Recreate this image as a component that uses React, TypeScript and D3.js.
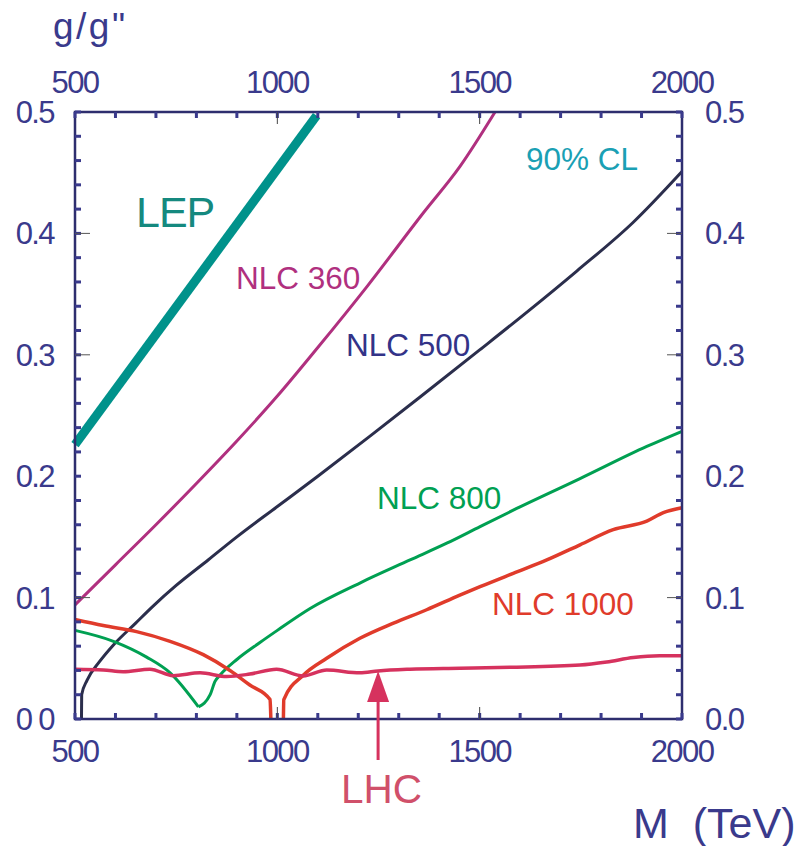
import React from "react";
import * as d3 from "d3";

// ---- data ----
const lepM = [500, 1097];
const lepG = [0.226, 0.497];

const nlc360M = [500, 600, 700, 800, 900, 1000, 1100, 1221, 1361, 1451, 1538];
const nlc360G = [0.094, 0.127, 0.16, 0.194, 0.229, 0.266, 0.306, 0.356, 0.417, 0.455, 0.5];

const nlc500M = [516, 516.5, 530, 560, 595, 650, 693, 750, 829, 900, 1000, 1100, 1229, 1352, 1500, 1620, 1740, 1879, 2000];
const nlc500G = [0, 0.02, 0.032, 0.047, 0.061, 0.079, 0.093, 0.11, 0.131, 0.15, 0.175, 0.2, 0.233, 0.265, 0.304, 0.336, 0.369, 0.409, 0.451];

const nlc800M = [500, 595, 677, 735, 805, 834, 846, 858, 900, 957, 1000, 1081, 1204, 1328, 1420, 1501, 1583, 1748, 1913, 2000];
const nlc800G = [0.073, 0.064, 0.051, 0.038, 0.01, 0.02, 0.031, 0.036, 0.049, 0.063, 0.073, 0.091, 0.112, 0.131, 0.145, 0.1585, 0.172, 0.198, 0.2245, 0.237];
const nlc800MinIndex = 4;

const nlc1000M = [500, 570, 652, 735, 817, 883, 932, 982, 984, 1000, 1015, 1016, 1064, 1122, 1204, 1287, 1369, 1451, 1501, 1583, 1666, 1748, 1830, 1913, 1954, 2000];
const nlc1000G = [0.082, 0.077, 0.072, 0.064, 0.053, 0.04, 0.028, 0.016, 0, NaN, 0, 0.016, 0.036, 0.05, 0.0665, 0.079, 0.09, 0.102, 0.109, 0.12, 0.131, 0.1435, 0.156, 0.163, 0.17, 0.174];

const lhcM = [500, 570, 619, 685, 743, 809, 875, 932, 998, 1064, 1122, 1204, 1249, 1328, 1451, 1575, 1748, 1814, 1880, 1945, 2000];
const lhcG = [0.041, 0.0404, 0.039, 0.041, 0.0357, 0.038, 0.035, 0.037, 0.041, 0.0355, 0.0404, 0.038, 0.0396, 0.041, 0.0418, 0.0426, 0.0445, 0.047, 0.0506, 0.052, 0.052];

const lhcArrowM = 1249;
const lhcArrowG = 0.0396;

const xTicksMajor = [500, 1000, 1500, 2000];
const xTicksMinor = d3.range(500, 2001, 100);
const yTicksMajor = [0, 0.1, 0.2, 0.3, 0.4, 0.5];
const yTicksMinor = d3.range(0, 0.5001, 0.02);
const leftLabels = ["0 0", "0.1", "0.2", "0.3", "0.4", "0.5"];
const rightLabels = ["0.0", "0.1", "0.2", "0.3", "0.4", "0.5"];

const NAVY = "#3a3a8c";
const FONT = "'Liberation Sans', Arial, Helvetica, sans-serif";

const L = 75, R = 682, T = 112, B = 719;

type P = { m: number; g: number };

export default function App() {
  const x = d3.scaleLinear().domain([500, 2000]).range([L, R]);
  const y = d3.scaleLinear().domain([0, 0.5]).range([B, T]);

  const mk = (M: number[], G: number[]): P[] => M.map((m, i) => ({ m, g: G[i] }));
  const smooth = d3
    .line<P>()
    .defined((d) => !isNaN(d.g))
    .x((d) => x(d.m))
    .y((d) => y(d.g))
    .curve(d3.curveMonotoneX);
  const straight = d3
    .line<P>()
    .x((d) => x(d.m))
    .y((d) => y(d.g));

  const green = mk(nlc800M, nlc800G);

  const numStyle = { fontFamily: FONT, fontSize: 31, fill: NAVY, letterSpacing: -1.6 } as const;
  const lblStyle = { fontFamily: FONT, fontSize: 31.5 } as const;

  const ax = x(lhcArrowM);
  const tipY = y(lhcArrowG);

  return (
    <svg width={798} height={846} style={{ position: "absolute", left: 0, top: 0, background: "#fff" }}>
      <rect x={0} y={0} width={798} height={846} fill="#fff" />
      {/* curves */}
      <path d={straight(mk(lepM, lepG)) || ""} fill="none" stroke="#00928b" strokeWidth={9} />
      <path d={smooth(mk(nlc360M, nlc360G)) || ""} fill="none" stroke="#b0307f" strokeWidth={3} />
      <path d={smooth(mk(nlc500M, nlc500G)) || ""} fill="none" stroke="#2b2e4c" strokeWidth={3} />
      <path d={smooth(green.slice(0, nlc800MinIndex + 1)) || ""} fill="none" stroke="#00a052" strokeWidth={3} strokeLinejoin="round" />
      <path d={smooth(green.slice(nlc800MinIndex)) || ""} fill="none" stroke="#00a052" strokeWidth={3} strokeLinejoin="round" />
      <path d={smooth(mk(nlc1000M, nlc1000G)) || ""} fill="none" stroke="#e03b2b" strokeWidth={3.5} strokeLinejoin="round" />
      <path d={smooth(mk(lhcM, lhcG)) || ""} fill="none" stroke="#d6325e" strokeWidth={3.5} strokeLinejoin="round" />

      {/* frame */}
      <rect x={L} y={T} width={R - L} height={B - T} fill="none" stroke="#2e2e6e" strokeWidth={2.5} />
      {/* minor ticks */}
      {xTicksMinor.map((t) => (
        <g key={"xt" + t}>
          <line x1={x(t)} x2={x(t)} y1={T} y2={T + 6} stroke={NAVY} strokeWidth={3} />
          <line x1={x(t)} x2={x(t)} y1={B} y2={B - 6} stroke={NAVY} strokeWidth={3} />
        </g>
      ))}
      {yTicksMinor.map((t) => (
        <g key={"yt" + t}>
          <line x1={L} x2={L + 6} y1={y(t)} y2={y(t)} stroke={NAVY} strokeWidth={3} />
          <line x1={R} x2={R - 6} y1={y(t)} y2={y(t)} stroke={NAVY} strokeWidth={3} />
        </g>
      ))}
      {/* thin major ticks */}
      {[1000, 1500].map((t) => (
        <g key={"xm" + t}>
          <line x1={x(t)} x2={x(t)} y1={T} y2={T + 12} stroke="#444" strokeWidth={1} />
          <line x1={x(t)} x2={x(t)} y1={B} y2={B - 12} stroke="#444" strokeWidth={1} />
        </g>
      ))}
      {[0.1, 0.3, 0.4].map((t) => (
        <g key={"ym" + t}>
          <line x1={L} x2={L + 15} y1={y(t)} y2={y(t)} stroke="#555" strokeWidth={1} />
          <line x1={R} x2={R - 15} y1={y(t)} y2={y(t)} stroke="#555" strokeWidth={1} />
        </g>
      ))}

      {/* axis labels */}
      {xTicksMajor.map((t) => (
        <g key={"xl" + t}>
          <text x={x(t)} y={93} textAnchor="middle" style={numStyle}>{t}</text>
          <text x={x(t)} y={762} textAnchor="middle" style={numStyle}>{t}</text>
        </g>
      ))}
      {yTicksMajor.map((t, i) => (
        <g key={"yl" + t}>
          <text x={54} y={y(t) + 11} textAnchor="end" style={{ ...numStyle, whiteSpace: "pre" }}>{leftLabels[i]}</text>
          <text x={705} y={y(t) + 11} textAnchor="start" style={numStyle}>{rightLabels[i]}</text>
        </g>
      ))}
      <text x={53} y={39} style={{ fontFamily: FONT, fontSize: 37, fill: NAVY, letterSpacing: 2.5 }}>g/g"</text>
      <text x={633} y={838} style={{ fontFamily: FONT, fontSize: 43, fill: NAVY, whiteSpace: "pre" }}>{"M  (TeV)"}</text>

      {/* curve labels */}
      <text x={136} y={227} style={{ fontFamily: FONT, fontSize: 43, fill: "#15897f", letterSpacing: -1 }}>LEP</text>
      <text x={236} y={289} style={{ ...lblStyle, fill: "#b0307f" }}>NLC 360</text>
      <text x={346} y={356} style={{ ...lblStyle, fill: "#333388" }}>NLC 500</text>
      <text x={526} y={170} style={{ ...lblStyle, fill: "#1aa0b4" }}>90% CL</text>
      <text x={377} y={509} style={{ ...lblStyle, fill: "#00a052" }}>NLC 800</text>
      <text x={492} y={615} style={{ ...lblStyle, fill: "#e03b2b" }}>NLC 1000</text>

      {/* LHC arrow */}
      <line x1={ax} x2={ax} y1={760} y2={tipY + 25} stroke="#d6325e" strokeWidth={3} />
      <path d={`M${ax},${tipY} L${ax - 11},${tipY + 31} L${ax + 11},${tipY + 31} Z`} fill="#d6325e" />
      <text x={341} y={803} style={{ fontFamily: FONT, fontSize: 40.5, fill: "#d0506a" }}>LHC</text>
    </svg>
  );
}
